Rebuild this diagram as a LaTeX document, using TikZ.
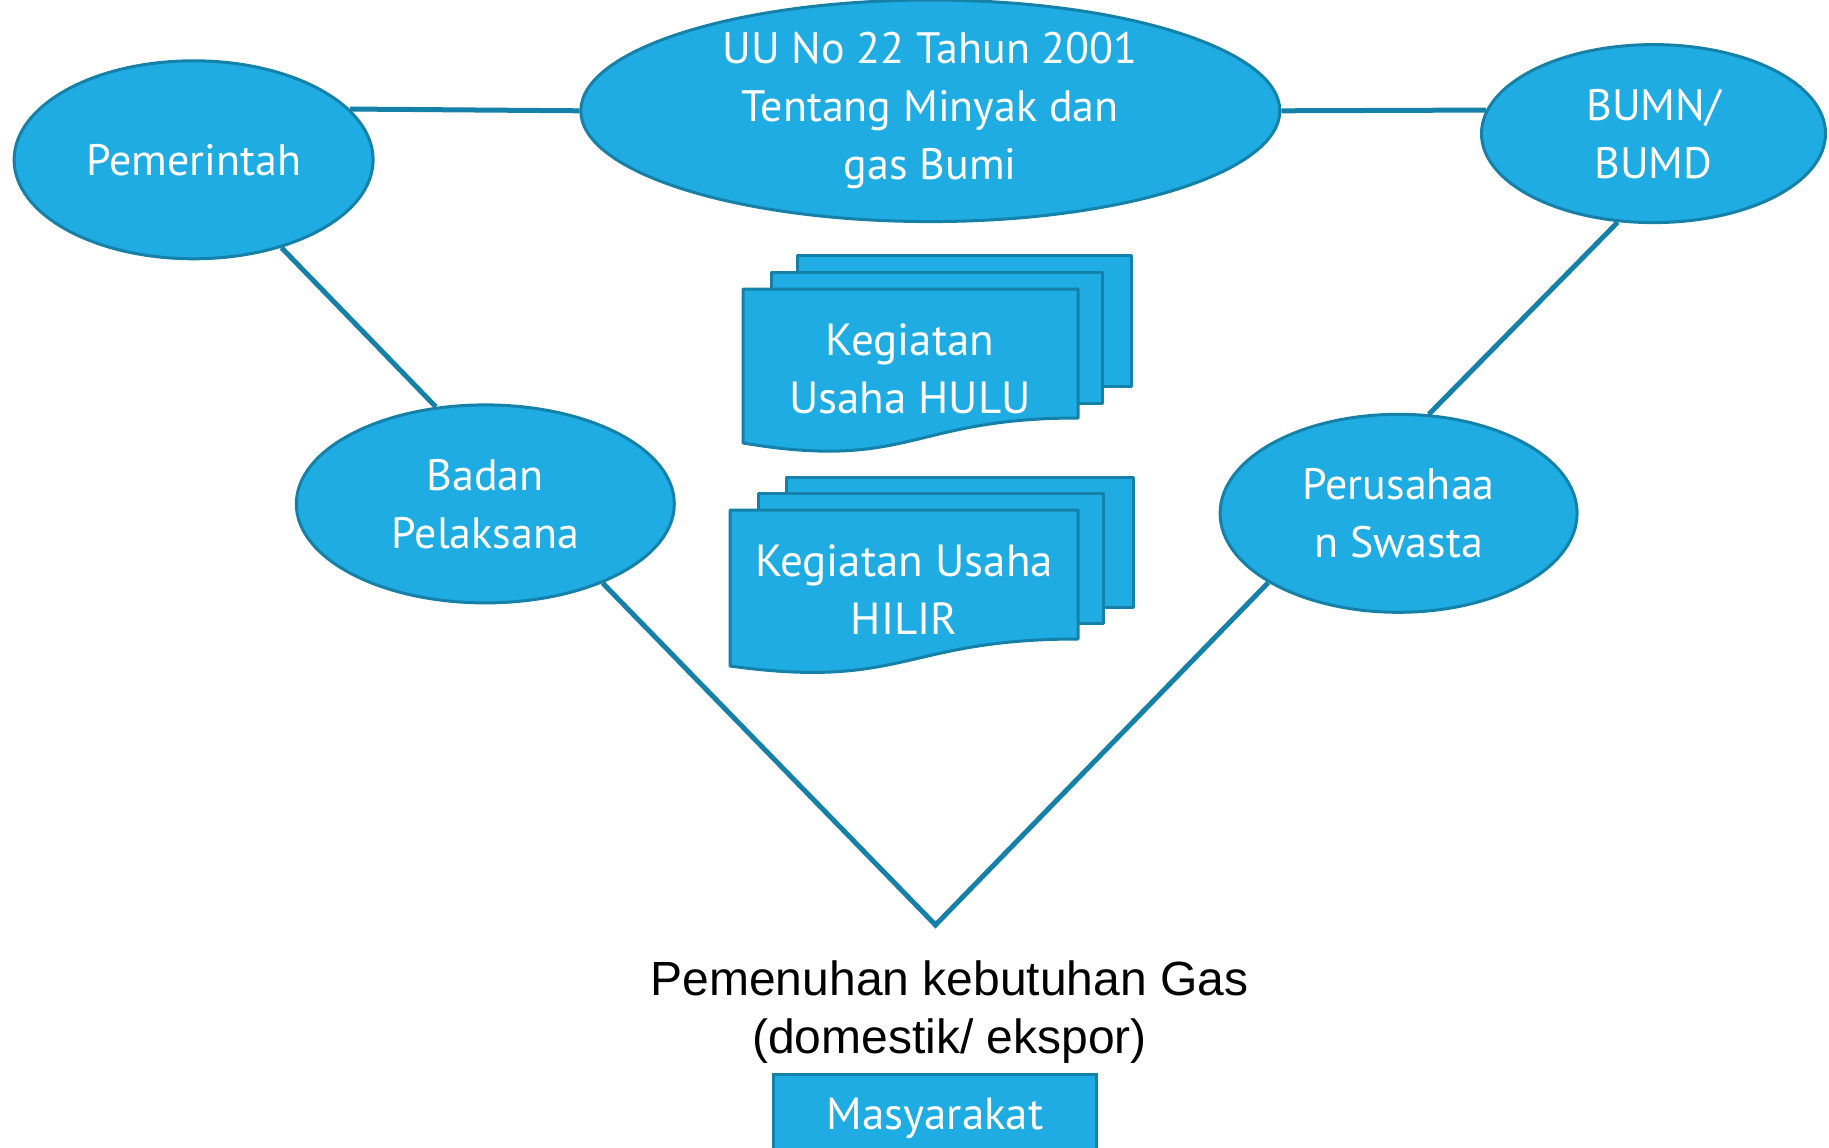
\documentclass[tikz,border=0pt]{standalone}
\usepackage{fontspec}
\setmainfont{PT Sans}
\newfontfamily\arialfont{Liberation Sans}
\usetikzlibrary{shapes.geometric}
\definecolor{fillblue}{HTML}{1EACE2}
\definecolor{lineblue}{HTML}{1580A8}

\begin{document}
\begin{tikzpicture}[x=1pt, y=-1pt,
    oval/.style={ellipse, draw=lineblue, line width=3pt, fill=fillblue, text=white,
      inner sep=0pt, align=center, font=\fontsize{44}{58}\selectfont},
    doc/.style={draw=lineblue, line width=3pt, fill=fillblue, line join=round},
    doctext/.style={text=white, align=center, font=\fontsize{45}{58}\selectfont},
    link/.style={draw=lineblue, line width=5pt}]
  \clip (0,0) rectangle (1829,1148);

  % ovals
  \node[oval, minimum width=359pt, minimum height=198pt] (pem) at (193.6,159.8) {Pemerintah};
  \node[oval, minimum width=699pt, minimum height=210pt] (uu) at (930.3,110.8) {UU No 22 Tahun 2001\\Tentang Minyak dan\\gas Bumi};
  \node[oval, minimum width=344pt, minimum height=178pt] (bumn) at (1653.5,133.6) {BUMN/\\BUMD};
  \node[oval, minimum width=378pt, minimum height=198pt] (badan) at (485.3,503.9) {Badan\\Pelaksana};
  \node[oval, minimum width=357pt, minimum height=198pt] (swasta) at (1398.6,513.3) {Perusahaa\\n Swasta};
  \coordinate (apex) at (935.5,925);

  % links
  \draw[link] (pem.18) -- (uu.west);
  \draw[link] (uu.east) -- (bumn.172);
  \draw[link] (pem.315) -- (badan.117);
  \draw[link] (bumn.248) -- (swasta.73);
  \draw[link] (badan.-34) -- (apex) -- (swasta.208);

  % hulu stack
  \draw[doc] (797,255) rectangle (1131,386);
  \draw[doc] (771,272) rectangle (1102,403);
  \draw[doc] (743,289) -- (1078,289) -- (1078,418)
    .. controls (910,418) and (910,471) .. (743,443) -- cycle;
  \node[doctext] (hulu) at (910,369) {Kegiatan\\Usaha HULU};

  % hilir stack
  \draw[doc] (786,477) rectangle (1133,607);
  \draw[doc] (758,493) rectangle (1103,623);
  \draw[doc] (730,510) -- (1078,510) -- (1078,639)
    .. controls (904,639) and (904,690) .. (730,666) -- cycle;
  \node[doctext] (hilir) at (904,590) {Kegiatan Usaha\\HILIR};

  \node[align=center, font=\arialfont\fontsize{48}{58}\selectfont] (gas) at (949.5,1012)
    {Pemenuhan kebutuhan Gas\\(domestik/ ekspor)};
  \node[draw=lineblue, line width=3pt, fill=fillblue, text=white, font=\fontsize{45}{58}\selectfont,
    minimum width=323pt, minimum height=88pt] (masy) at (935,1118) {Masyarakat};
\end{tikzpicture}
\end{document}
